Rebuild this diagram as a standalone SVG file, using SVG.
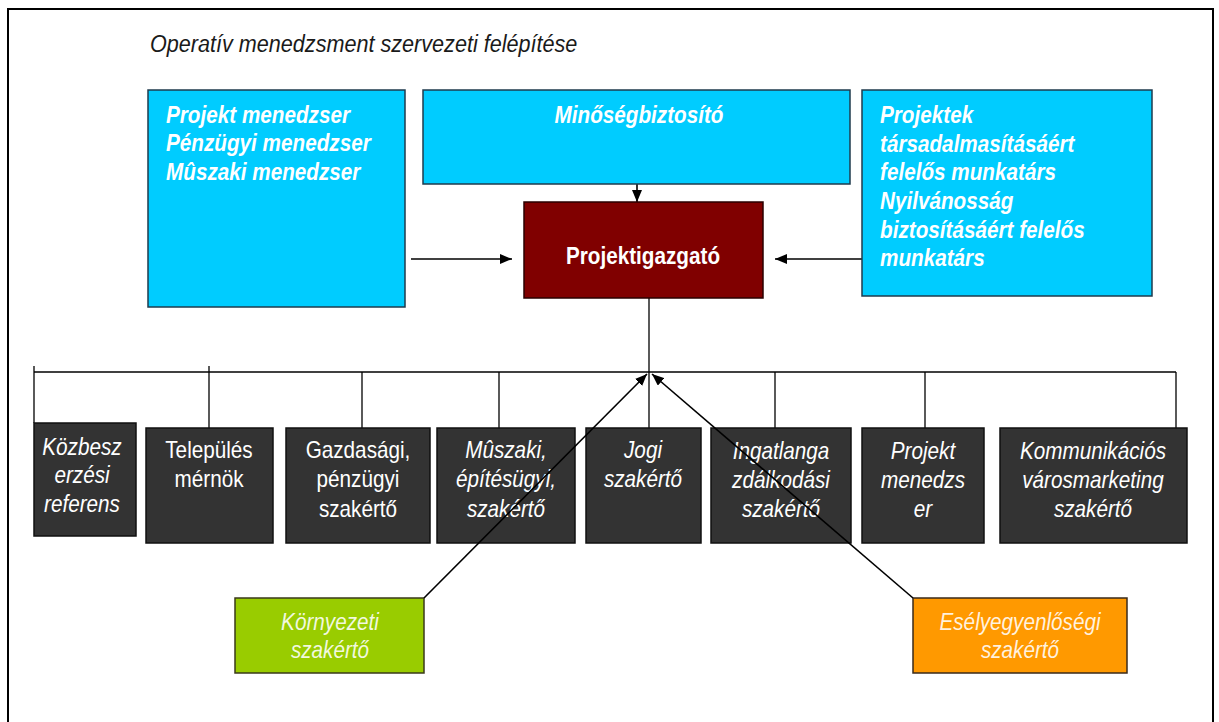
<svg xmlns="http://www.w3.org/2000/svg" width="1219" height="722" viewBox="0 0 1219 722">
<style>
text{font-family:"Liberation Sans",Arial,sans-serif;}
.title{font-size:24px;font-style:italic;fill:#1a1a1a;}
.blue{fill:#00ccff;stroke:#1f3b4d;stroke-width:1.5;}
.tb{font-size:23px;font-weight:bold;font-style:italic;fill:#ffffff;}
.dir{fill:#800000;stroke:#2a0000;stroke-width:1.5;}
.td{font-size:23px;font-weight:bold;fill:#ffffff;}
.dark{fill:#333333;stroke:#111111;stroke-width:1.5;}
.tx{font-size:23px;fill:#ffffff;text-anchor:middle;}
.it{font-style:italic;}
.green{fill:#99cc00;stroke:#3a3a1a;stroke-width:1.5;}
.orange{fill:#ff9900;stroke:#3a2a1a;stroke-width:1.5;}
.ta{font-size:23px;font-style:italic;fill:#ffffff;fill-opacity:0.88;text-anchor:middle;}
.ln{stroke:#000;stroke-width:1.3;fill:none;}
.ar{stroke:#000;stroke-width:1.6;fill:none;marker-end:url(#ah);}
</style>
<defs>
<marker id="ah" markerUnits="userSpaceOnUse" markerWidth="13" markerHeight="10" refX="12" refY="5" orient="auto">
<path d="M0,0 L12,5 L0,10 Z" fill="#000"/>
</marker>
</defs>
<rect x="8" y="9" width="1205" height="740" fill="#ffffff" stroke="#000" stroke-width="2"/>
<text class="title" transform="translate(150,52) scale(0.9,1)">Operatív menedzsment szervezeti felépítése</text>

<g id="connectors">
<line class="ar" x1="411" y1="259" x2="512" y2="259"/>
<line class="ar" x1="862" y1="259" x2="775" y2="259"/>
<line class="ar" x1="637" y1="184" x2="637" y2="202"/>
<line class="ln" x1="649" y1="298" x2="649" y2="428"/>
<line class="ln" x1="34" y1="372" x2="1176" y2="372"/>
<line class="ln" x1="34" y1="366" x2="34" y2="423"/>
<line class="ln" x1="209" y1="366" x2="209" y2="428"/>
<line class="ln" x1="362" y1="372" x2="362" y2="428"/>
<line class="ln" x1="499" y1="372" x2="499" y2="428"/>
<line class="ln" x1="775" y1="372" x2="775" y2="428"/>
<line class="ln" x1="925" y1="372" x2="925" y2="428"/>
<line class="ln" x1="1176" y1="372" x2="1176" y2="428"/>
</g>

<g id="n-menedzserek">
<rect class="blue" x="148" y="90" width="257" height="217"/>
<text class="tb" transform="translate(166,123) scale(0.9,1)"><tspan x="0" y="0">Projekt menedzser</tspan><tspan x="0" y="28.5">Pénzügyi menedzser</tspan><tspan x="0" y="57">Mûszaki menedzser</tspan></text>
</g>
<g id="n-minoseg">
<rect class="blue" x="423" y="90" width="427" height="94"/>
<text class="tb" text-anchor="middle" transform="translate(639,123) scale(0.9,1)">Minőségbiztosító</text>
</g>
<g id="n-tarsadalmasitas">
<rect class="blue" x="862" y="90" width="290" height="206"/>
<text class="tb" transform="translate(880,123) scale(0.9,1)"><tspan x="0" y="0">Projektek</tspan><tspan x="0" y="28.7">társadalmasításáért</tspan><tspan x="0" y="57.4">felelős munkatárs</tspan><tspan x="0" y="86.1">Nyilvánosság</tspan><tspan x="0" y="114.8">biztosításáért felelős</tspan><tspan x="0" y="143.5">munkatárs</tspan></text>
</g>
<g id="n-igazgato">
<rect class="dir" x="524" y="202" width="239" height="96"/>
<text class="td" text-anchor="middle" transform="translate(643,264) scale(0.9,1)">Projektigazgató</text>
</g>

<g id="n-kozbeszerzesi">
<rect class="dark" x="34" y="423" width="102" height="113"/>
<text class="tx it" transform="translate(82,455) scale(0.9,1)"><tspan x="0" y="0">Közbesz</tspan><tspan x="0" y="28.5">erzési</tspan><tspan x="0" y="57">referens</tspan></text>
</g>
<g id="n-telepules">
<rect class="dark" x="146" y="428" width="127" height="115"/>
<text class="tx" transform="translate(209,458) scale(0.9,1)"><tspan x="0" y="0">Település</tspan><tspan x="0" y="29.5">mérnök</tspan></text>
</g>
<g id="n-gazdasagi">
<rect class="dark" x="286" y="428" width="144" height="115"/>
<text class="tx" transform="translate(358,458) scale(0.9,1)"><tspan x="0" y="0">Gazdasági,</tspan><tspan x="0" y="29.5">pénzügyi</tspan><tspan x="0" y="59">szakértő</tspan></text>
</g>
<g id="n-muszaki">
<rect class="dark" x="437" y="428" width="138" height="115"/>
<text class="tx it" transform="translate(506,458) scale(0.9,1)"><tspan x="0" y="0">Mûszaki,</tspan><tspan x="0" y="29.5">építésügyi,</tspan><tspan x="0" y="59">szakértő</tspan></text>
</g>
<g id="n-jogi">
<rect class="dark" x="586" y="428" width="115" height="115"/>
<text class="tx it" transform="translate(643,458) scale(0.9,1)"><tspan x="0" y="0">Jogi</tspan><tspan x="0" y="29.5">szakértő</tspan></text>
</g>
<g id="n-ingatlan">
<rect class="dark" x="711" y="428" width="140" height="115"/>
<text class="tx it" transform="translate(781,459) scale(0.9,1)"><tspan x="0" y="0">Ingatlanga</tspan><tspan x="0" y="29">zdálkodási</tspan><tspan x="0" y="58">szakértő</tspan></text>
</g>
<g id="n-projektmenedzser">
<rect class="dark" x="862" y="428" width="122" height="115"/>
<text class="tx it" transform="translate(923,459) scale(0.9,1)"><tspan x="0" y="0">Projekt</tspan><tspan x="0" y="29">menedzs</tspan><tspan x="0" y="58">er</tspan></text>
</g>
<g id="n-kommunikacios">
<rect class="dark" x="1000" y="428" width="187" height="115"/>
<text class="tx it" transform="translate(1093,459) scale(0.9,1)"><tspan x="0" y="0">Kommunikációs</tspan><tspan x="0" y="29">városmarketing</tspan><tspan x="0" y="58">szakértő</tspan></text>
</g>

<g id="n-kornyezeti">
<rect class="green" x="235" y="598" width="189" height="75"/>
<text class="ta" transform="translate(330,630) scale(0.9,1)"><tspan x="0" y="0">Környezeti</tspan><tspan x="0" y="28">szakértő</tspan></text>
</g>
<g id="n-eselyegyenlosegi">
<rect class="orange" x="913" y="598" width="214" height="75"/>
<text class="ta" transform="translate(1020,630) scale(0.9,1)"><tspan x="0" y="0">Esélyegyenlőségi</tspan><tspan x="0" y="28">szakértő</tspan></text>
</g>

<g id="connectors-diagonal">
<line class="ar" x1="424" y1="598" x2="647" y2="374"/>
<line class="ar" x1="913" y1="598" x2="652" y2="374"/>
</g>
</svg>
